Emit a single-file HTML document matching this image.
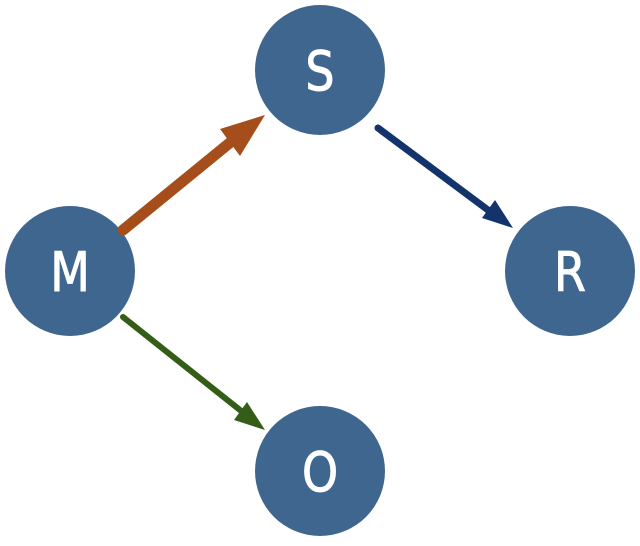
<!DOCTYPE html>
<html><head><style>html,body{margin:0;padding:0;background:#fff;}svg{display:block}</style></head>
<body>
<svg width="640" height="546" viewBox="0 0 640 546" xmlns="http://www.w3.org/2000/svg">
<g fill="#3e668f">
<circle cx="320" cy="70" r="65"/>
<circle cx="70" cy="271" r="65"/>
<circle cx="570" cy="271" r="65"/>
<circle cx="320" cy="471" r="65"/>
</g>
<line x1="123" y1="230" x2="232" y2="141" stroke="#a64d1c" stroke-width="11" stroke-linecap="round"/>
<polygon points="265,115 220,129 240,156" fill="#a64d1c"/>
<line x1="378" y1="128" x2="492" y2="213" stroke="#13336d" stroke-width="7" stroke-linecap="round"/>
<polygon points="513,228 482,218 495,200" fill="#13336d"/>
<line x1="123" y1="317" x2="245" y2="414" stroke="#345d17" stroke-width="6" stroke-linecap="round"/>
<polygon points="265,430 234,420 247,402" fill="#345d17"/>
<g fill="#fff" stroke="#fff" stroke-width="1" font-family="'DejaVu Sans','Liberation Sans',sans-serif" font-size="54" text-anchor="middle">
<text transform="translate(320,90) scale(0.85,1)">S</text>
<text transform="translate(70,291) scale(0.85,1)">M</text>
<text transform="translate(570,291) scale(0.85,1)">R</text>
<text transform="translate(320,491) scale(0.85,1)">O</text>
</g>
</svg>
</body></html>
